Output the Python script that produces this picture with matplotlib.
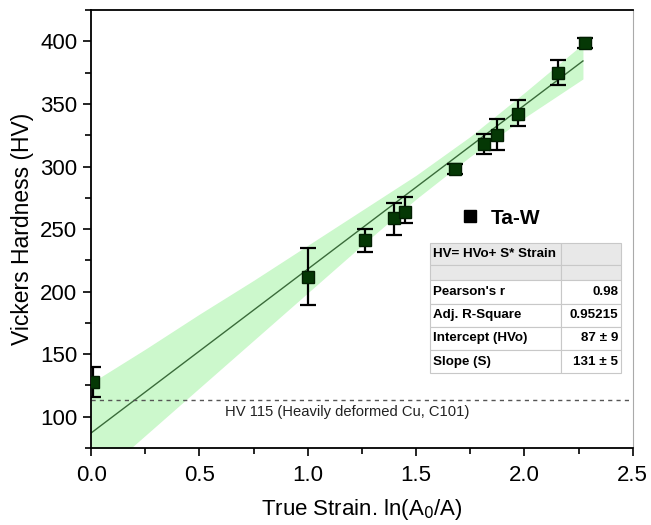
import numpy as np
import matplotlib
matplotlib.use("Agg")
import matplotlib.pyplot as plt
from matplotlib.lines import Line2D
from matplotlib.ticker import MultipleLocator

plt.rcParams['font.family'] = ['Liberation Sans', 'DejaVu Sans']

# measured points (true strain, hardness) with error bars
strain = [0.01, 1.00, 1.265, 1.40, 1.45, 1.68, 1.815, 1.875, 1.97, 2.157, 2.28]
hv = [128, 212, 241, 259, 264, 298, 318, 325, 342, 375, 399]
hv_lo = [116, 189, 232, 245, 255, 294, 310, 313, 332, 365, 395]
hv_hi = [140, 235, 250, 271, 276, 302, 326, 338, 353, 385, 403]

# linear fit HV = HVo + S * strain
hv0 = 87
slope = 131
fit_x = [0.0, 2.27]

# confidence band edges
band_x = [0.0, 0.25, 0.5, 0.75, 1.0, 1.25, 1.5, 1.75, 2.0, 2.27]
band_up = [127, 154, 182, 209, 237, 265, 293, 324, 359, 398]
band_lo = [47, 85, 123, 161, 199, 237, 274, 308, 339, 370]

cu_hv = 113.5

table_rows = [["HV= HVo+ S* Strain", ""],
              ["", ""],
              ["Pearson's r", "0.98"],
              ["Adj. R-Square", "0.95215"],
              ["Intercept (HVo)", "87 \u00b1 9"],
              ["Slope (S)", "131 \u00b1 5"]]

fig = plt.figure(figsize=(6.51, 5.25), dpi=100)
ax = fig.add_axes([0.140, 0.1467, 0.832, 0.834])

ax.fill_between(band_x, band_lo, band_up, color='#ccf8cc', lw=0, zorder=1)
fx = np.array(fit_x)
ax.plot(fx, hv0 + slope * fx, color='#3a6b3a', lw=1.0, zorder=2)
ax.axhline(cu_hv, color='#555555', lw=1.0, ls=(0, (3, 3)), zorder=2)
ax.text(0.62, 104, "HV 115 (Heavily deformed Cu, C101)", fontsize=10.6,
        color='#222222', va='center', ha='left')

yerr = [np.array(hv) - np.array(hv_lo), np.array(hv_hi) - np.array(hv)]
ax.errorbar(strain, hv, yerr=yerr, fmt='s', ms=8.5, mfc='#053805', mec='#021f02',
            ecolor='black', elinewidth=1.6, capsize=5.5, capthick=1.6, zorder=3)

ax.set_xlim(0, 2.5)
ax.set_ylim(75, 425)
ax.xaxis.set_minor_locator(MultipleLocator(0.25))
ax.yaxis.set_minor_locator(MultipleLocator(25))
ax.set_xticks([0, 0.5, 1.0, 1.5, 2.0, 2.5])
ax.set_xticklabels(["0.0", "0.5", "1.0", "1.5", "2.0", "2.5"])
ax.set_yticks([100, 150, 200, 250, 300, 350, 400])
ax.tick_params(which='major', direction='out', length=6, width=1.2, labelsize=16)
ax.tick_params(which='minor', direction='out', length=4, width=1.2)
ax.tick_params(axis='x', pad=6)
ax.tick_params(axis='y', pad=4)
for s in ['left', 'bottom', 'top']:
    ax.spines[s].set_linewidth(1.3)
ax.spines['right'].set_color('#aaaaaa')
ax.spines['right'].set_linewidth(0.8)

ax.set_xlabel("True Strain. ln(A$_0$/A)", fontsize=16, labelpad=8)
ax.set_ylabel("Vickers Hardness (HV)", fontsize=16.5, labelpad=4)

leg_h = [Line2D([], [], marker='s', ls='', color='black', ms=9)]
leg = ax.legend(leg_h, ["Ta-W"], loc='center left', bbox_to_anchor=(0.645, 0.525),
                frameon=False, handletextpad=0.5, handlelength=1.0,
                prop={'size': 15, 'weight': 'bold'})

tab = ax.table(cellText=table_rows, colWidths=[0.686, 0.314],
               bbox=[0.625, 0.171, 0.353, 0.297], zorder=4)
tab.auto_set_font_size(False)
heights = [22, 15, 23, 23, 23, 23]
for (r, c), cell in tab.get_celld().items():
    cell.set_height(heights[r])
    cell.set_edgecolor('#c8c8c8')
    cell.set_linewidth(0.8)
    cell.set_facecolor('#e8e8e8' if r < 2 else 'white')
    txt = cell.get_text()
    txt.set_fontsize(9.6)
    txt.set_fontweight('bold')
    if c == 0:
        cell.set_text_props(ha='left')
        cell.PAD = 0.025
    else:
        cell.set_text_props(ha='right')
        cell.PAD = 0.04

fig.savefig("out.png", dpi=100)
